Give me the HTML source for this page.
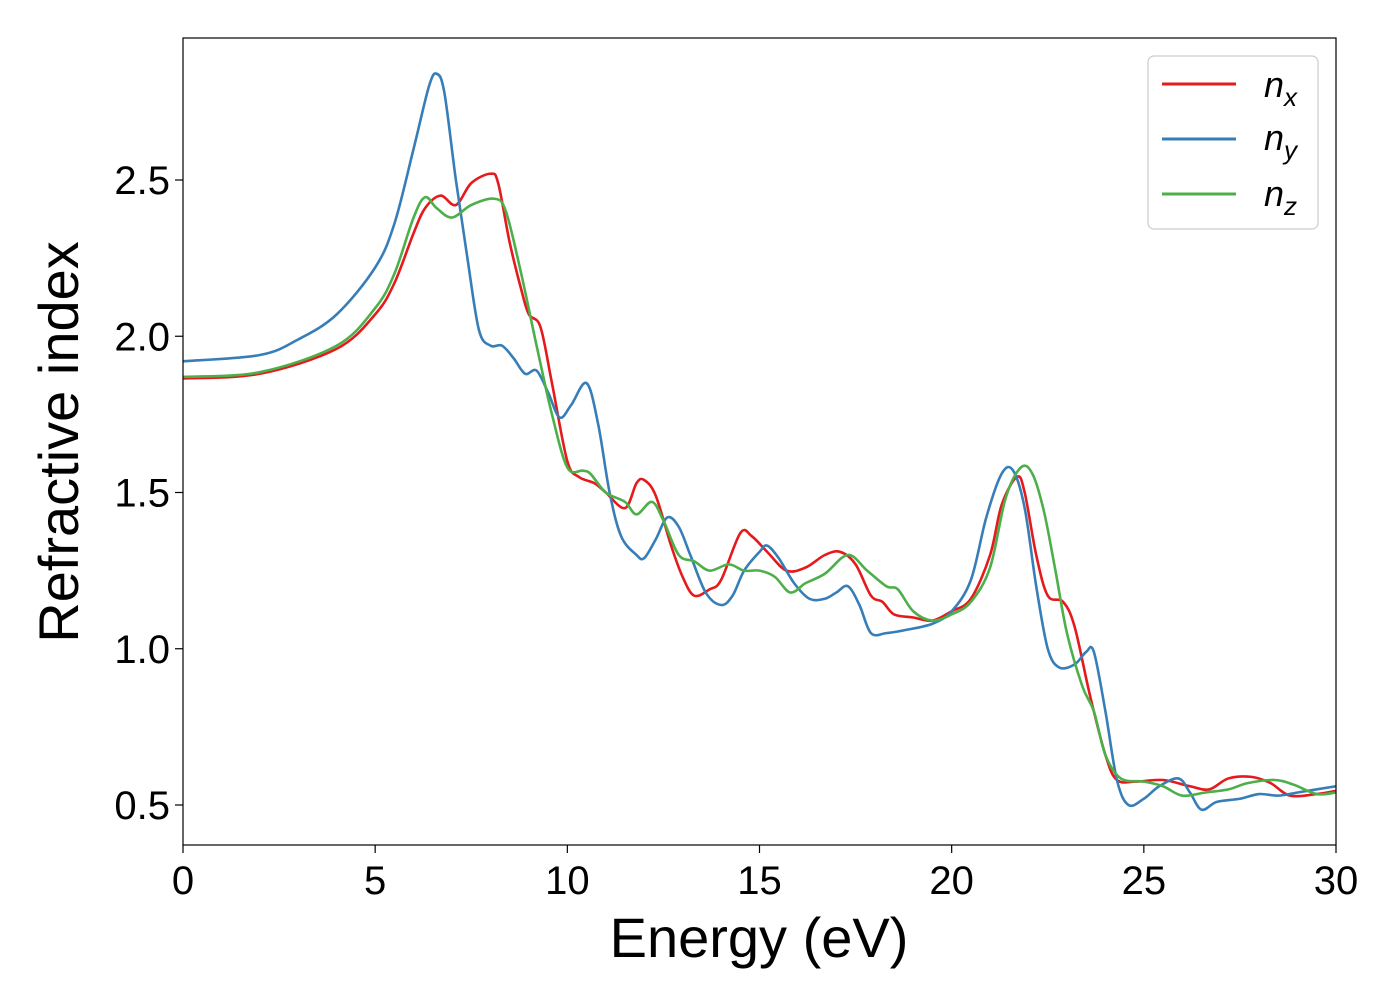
<!DOCTYPE html>
<html><head><meta charset="utf-8"><style>
body{margin:0;background:#fff}
svg{display:block;font-family:"Liberation Sans","DejaVu Sans",sans-serif}
</style></head><body>
<svg id="chart" width="1400" height="1000">
<rect x="183" y="38" width="1153" height="807" fill="#fff"/>
<g id="series"></g>
<rect x="183" y="38" width="1153" height="807" fill="none" stroke="#000" stroke-width="1.2"/>
<g id="xticks"></g>
<g id="yticks"></g>
<text x="759" y="957" font-size="56" text-anchor="middle">Energy (eV)</text>
<text transform="translate(78,442) rotate(-90)" font-size="56" text-anchor="middle">Refractive index</text>
<g>
<rect x="1148" y="56" width="170" height="173" rx="6" fill="#fff" stroke="#ccc" stroke-width="1.2"/>
<line x1="1162" y1="84" x2="1236" y2="84" stroke="#e41a1c" stroke-width="3"/>
<text x="1264" y="97" font-size="36" font-style="italic">n<tspan font-size="26" dy="9">x</tspan></text>
<line x1="1162" y1="139" x2="1236" y2="139" stroke="#377eb8" stroke-width="3"/>
<text x="1264" y="150" font-size="36" font-style="italic">n<tspan font-size="26" dy="9">y</tspan></text>
<line x1="1162" y1="194" x2="1236" y2="194" stroke="#4daf4a" stroke-width="3"/>
<text x="1264" y="206" font-size="36" font-style="italic">n<tspan font-size="26" dy="9">z</tspan></text>
</g>
</svg>
<script>
const xTicks=[0,5,10,15,20,25,30];
const yTicks=[0.5,1.0,1.5,2.0,2.5];
const yTickLabels=["0.5","1.0","1.5","2.0","2.5"];
const nxE=[0,2,4,5,5.5,6,6.3,6.7,7.1,7.5,8,8.2,8.5,8.8,9,9.3,9.6,10,10.3,10.7,11,11.5,11.8,12,12.3,12.7,13,13.3,13.7,14,14.5,14.8,15.2,15.7,16.2,16.7,17.1,17.5,17.9,18.2,18.5,19,19.5,20,20.5,21,21.3,21.7,21.9,22.2,22.5,22.9,23.2,23.6,24,24.3,24.8,25.5,26.2,26.7,27.2,27.8,28.3,28.8,29.5,30];
const nxV=[1.865,1.88,1.96,2.07,2.17,2.33,2.41,2.45,2.42,2.49,2.52,2.49,2.3,2.15,2.07,2.03,1.85,1.6,1.55,1.53,1.5,1.45,1.53,1.54,1.49,1.33,1.23,1.17,1.19,1.22,1.37,1.36,1.31,1.25,1.26,1.3,1.31,1.27,1.17,1.15,1.11,1.1,1.09,1.12,1.16,1.3,1.46,1.55,1.5,1.3,1.17,1.15,1.07,0.85,0.66,0.58,0.575,0.58,0.56,0.55,0.585,0.59,0.57,0.53,0.535,0.545];
const nyE=[0,2,3,4,5,5.5,6,6.4,6.6,6.8,7.1,7.4,7.7,8,8.3,8.6,8.9,9.2,9.5,9.8,10.1,10.5,10.8,11.1,11.4,11.8,12,12.3,12.6,12.9,13.2,13.6,14,14.3,14.6,15,15.2,15.5,15.9,16.3,16.7,17,17.3,17.6,17.9,18.3,18.8,19.5,20,20.5,20.9,21.3,21.6,21.9,22.2,22.5,22.8,23.2,23.5,23.7,24,24.3,24.6,25,25.4,25.9,26.2,26.5,26.9,27.5,28,28.5,29,30];
const nyV=[1.92,1.94,1.99,2.07,2.22,2.36,2.6,2.8,2.84,2.78,2.5,2.25,2.02,1.97,1.97,1.93,1.88,1.89,1.82,1.74,1.78,1.85,1.72,1.5,1.36,1.3,1.29,1.35,1.42,1.39,1.3,1.18,1.14,1.17,1.25,1.31,1.33,1.29,1.21,1.16,1.16,1.18,1.2,1.14,1.05,1.05,1.06,1.08,1.12,1.22,1.42,1.56,1.57,1.45,1.2,1.0,0.94,0.95,0.99,0.99,0.8,0.58,0.5,0.52,0.56,0.585,0.54,0.485,0.51,0.52,0.535,0.53,0.54,0.56];
const nzE=[0,2,4,5,5.5,6,6.3,6.6,7,7.5,8.1,8.4,8.8,9.2,9.6,10,10.4,10.6,11,11.5,11.8,12.2,12.5,12.9,13.3,13.7,14.2,14.6,15,15.4,15.8,16.2,16.7,17.3,17.8,18.3,18.6,19,19.5,20,20.5,21,21.4,21.8,22.1,22.4,22.7,23,23.4,23.7,24,24.4,25,25.5,26,26.6,27.2,27.7,28.4,28.9,29.5,30];
const nzV=[1.87,1.885,1.97,2.09,2.2,2.38,2.445,2.41,2.38,2.42,2.44,2.4,2.2,1.97,1.75,1.58,1.57,1.56,1.5,1.47,1.43,1.47,1.41,1.3,1.28,1.25,1.27,1.25,1.25,1.23,1.18,1.21,1.24,1.3,1.25,1.2,1.19,1.12,1.09,1.11,1.15,1.26,1.48,1.58,1.56,1.44,1.25,1.05,0.88,0.8,0.66,0.585,0.575,0.56,0.53,0.54,0.55,0.57,0.58,0.565,0.535,0.54];
const X=v=>183+(v-0)*(1153/30);
const Y=v=>805-(v-0.5)*312.5;
const NS="http://www.w3.org/2000/svg";
function mk(t,a,parent){const e=document.createElementNS(NS,t);for(const k in a)e.setAttribute(k,a[k]);parent.appendChild(e);return e;}
function pathD(es,vs){const p=es.map((e,i)=>[X(e),Y(vs[i])]);let d="M"+p[0][0]+","+p[0][1];
for(let i=0;i<p.length-1;i++){const p0=p[Math.max(0,i-1)],p1=p[i],p2=p[i+1],p3=p[Math.min(p.length-1,i+2)];
const c1=[p1[0]+(p2[0]-p0[0])/6,p1[1]+(p2[1]-p0[1])/6],c2=[p2[0]-(p3[0]-p1[0])/6,p2[1]-(p3[1]-p1[1])/6];
d+=`C${c1[0]},${c1[1]} ${c2[0]},${c2[1]} ${p2[0]},${p2[1]}`;}return d;}
const g=document.getElementById("series");
const s1=mk("path",{d:pathD(nxE,nxV),fill:"none",stroke:"#e41a1c","stroke-width":2.6},g);


const s2=mk("path",{d:pathD(nyE,nyV),fill:"none",stroke:"#377eb8","stroke-width":2.6},g);


const s3=mk("path",{d:pathD(nzE,nzV),fill:"none",stroke:"#4daf4a","stroke-width":2.6},g);


const xg=document.getElementById("xticks");
xTicks.forEach(t=>{const l=mk("line",{x1:X(t),x2:X(t),y1:845,y2:853,stroke:"#000","stroke-width":1.2},xg);


const tx=mk("text",{x:X(t),y:894,"font-size":40,"text-anchor":"middle"},xg);tx.textContent=t;

});
const yg=document.getElementById("yticks");
yTicks.forEach((t,i)=>{const l=mk("line",{x1:175,x2:183,y1:Y(t),y2:Y(t),stroke:"#000","stroke-width":1.2},yg);


const tx=mk("text",{x:170,y:Y(t)+14,"font-size":40,"text-anchor":"end"},yg);tx.textContent=yTickLabels[i];

});
</script>
</body></html>
